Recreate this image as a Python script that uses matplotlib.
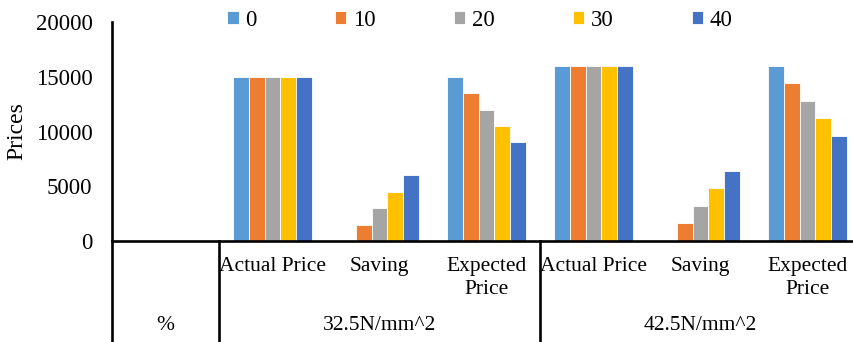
import numpy as np
import matplotlib.pyplot as plt
from matplotlib.transforms import blended_transform_factory

plt.rcParams['font.family'] = ['Liberation Serif', 'DejaVu Serif']

# grouped categories: the "%" group has one empty slot
groups = ['%', '32.5N/mm^2', '42.5N/mm^2']
items = ['Actual Price', 'Saving', 'Expected Price']
series = ['0', '10', '20', '30', '40']

# one row per series, one column per category (first column is the empty "%" slot)
val_0 = [0, 15000, 0, 15000, 16000, 0, 16000]
val_10 = [0, 15000, 1500, 13500, 16000, 1600, 14400]
val_20 = [0, 15000, 3000, 12000, 16000, 3200, 12800]
val_30 = [0, 15000, 4500, 10500, 16000, 4800, 11200]
val_40 = [0, 15000, 6000, 9000, 16000, 6400, 9600]
values = [val_0, val_10, val_20, val_30, val_40]

colors = ['#5B9BD5', '#ED7D31', '#A5A5A5', '#FFC000', '#4472C4']

W, H = 854, 342
fig = plt.figure(figsize=(W / 100, H / 100), dpi=100)
x0, y0, ytop = 112, 241, 22
cat_w = 107
ncat = 7
ax = fig.add_axes([x0 / W, 1 - y0 / H, ncat * cat_w / W, (y0 - ytop) / H])

ind = np.arange(ncat)
bar_w = 0.148
for i, (name, vals) in enumerate(zip(series, values)):
    offs = (i - 2) * bar_w
    ax.bar(ind + offs, vals, width=bar_w, color=colors[i], edgecolor='white',
           linewidth=0.6, label=name, zorder=2)

ax.set_xlim(-0.5, ncat - 0.5)
ax.set_ylim(0, 20000)
ax.set_yticks([0, 5000, 10000, 15000, 20000])
ax.tick_params(axis='y', length=0, pad=14, labelsize=16.5)
ax.set_xticks([])
for s in ['top', 'right']:
    ax.spines[s].set_visible(False)
ax.spines['left'].set_visible(False)
ax.spines['bottom'].set_linewidth(1.9)
ax.set_ylabel('Prices', fontsize=17)
ax.yaxis.set_label_coords((27 - x0) / (ncat * cat_w), 0.5)

# category table below the axis
tr = blended_transform_factory(ax.transData, ax.transAxes)
bottom = (y0 - H) / (y0 - ytop)
ax.plot([-0.5, -0.5], [bottom, 1], transform=tr, color='black', lw=1.9, clip_on=False)
for b in [0.5, 3.5]:
    ax.plot([b, b], [bottom, 0], transform=tr, color='black', lw=1.9, clip_on=False)

lab_y = (y0 - 257) / (y0 - ytop)
grp_y = (y0 - 325) / (y0 - ytop)
cat_labels = [''] + [t.replace('Expected ', 'Expected\n') for t in items] * 2
for k, lab in enumerate(cat_labels):
    ax.text(k, lab_y, lab, transform=tr, ha='center', va='top', fontsize=15.5,
            linespacing=1.25)
grp_pos = [0, 2, 5]
for g, p in zip(groups, grp_pos):
    ax.text(p, grp_y, g, transform=tr, ha='center', va='center', fontsize=15.5)

fig.legend(loc='center', bbox_to_anchor=(480 / W, 1 - 20 / H), ncol=5, frameon=False,
           fontsize=16.5, handlelength=0.5, handleheight=0.5, handletextpad=0.3,
           columnspacing=3.4)

fig.savefig('out.png', dpi=100)
